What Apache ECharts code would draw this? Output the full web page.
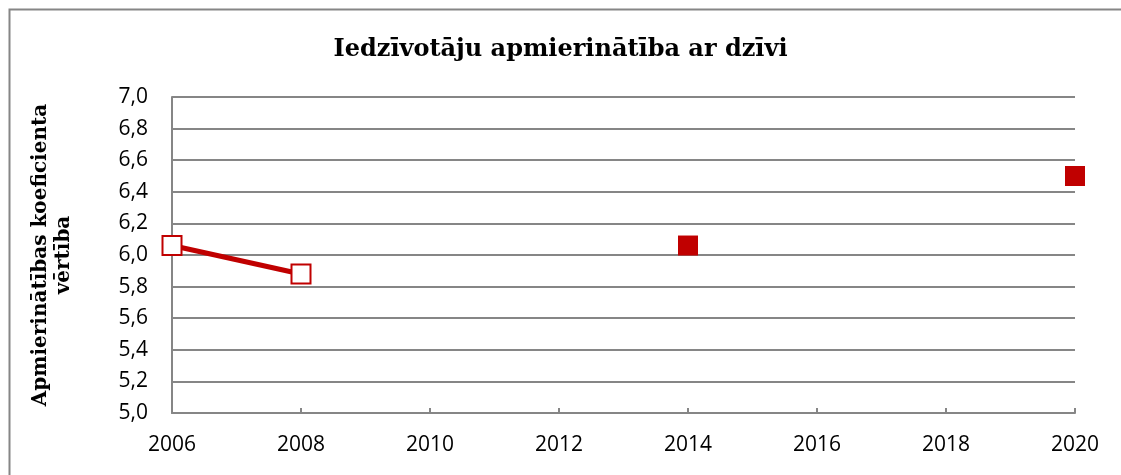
<!DOCTYPE html>
<html>
<head>
<meta charset="utf-8">
<script src="https://cdn.jsdelivr.net/npm/echarts@6/dist/echarts.min.js"></script>
<style>
html,body{margin:0;padding:0;background:#fff;}
#chart{width:1121px;height:475px;}
</style>
</head>
<body>
<div id="chart"></div>
<script>
// 2006 / 2008 series (line with hollow squares)
const years1 = [2006, 2008];
const values1 = [6.06, 5.88];
// 2014 / 2020 series (filled squares)
const years2 = [2014, 2020];
const values2 = [6.06, 6.5];

const red = "#C00000";
const gray = "#868686";

const chart = echarts.init(document.getElementById("chart"));

const option = {
    animation: false,
    backgroundColor: "#fff",
    title: {
        text: "Iedzīvotāju apmierinātība ar dzīvi",
        left: "center",
        top: 33,
        textStyle: {
            fontFamily: "DejaVu Serif",
            fontWeight: "bold",
            fontSize: 24,
            color: "#000"
        }
    },
    graphic: [{
        type: "rect",
        shape: {x: 9.5, y: 9.5, width: 1200, height: 600},
        style: {fill: "none", stroke: gray, lineWidth: 2},
        silent: true
    }],
    grid: {left: 172, top: 97, right: 46, bottom: 62},
    xAxis: {
        type: "value",
        min: 2006,
        max: 2020,
        interval: 2,
        axisLine: {show: true, lineStyle: {color: gray, width: 2}},
        axisTick: {show: true, inside: true, length: 5, lineStyle: {color: gray, width: 2}},
        splitLine: {show: false},
        axisLabel: {
            margin: 22,
            color: "#000",
            fontFamily: "Open Sans",
            fontSize: 21,
            formatter: v => String(v)
        }
    },
    yAxis: {
        type: "value",
        min: 5,
        max: 7,
        interval: 0.2,
        name: "Apmierinātības koeficienta\nvērtība",
        nameLocation: "middle",
        nameGap: 97,
        nameTextStyle: {
            fontFamily: "DejaVu Serif",
            fontWeight: "bold",
            fontSize: 20,
            color: "#000",
            lineHeight: 23
        },
        axisLine: {show: true, lineStyle: {color: gray, width: 2}},
        axisTick: {show: false},
        splitLine: {show: true, lineStyle: {color: gray, width: 2}},
        axisLabel: {
            margin: 24,
            color: "#000",
            fontFamily: "Open Sans",
            fontSize: 21,
            formatter: v => v.toFixed(1).replace(".", ",")
        }
    },
    series: [{
        type: "line",
        data: years1.map((y, i) => [y, values1[i]]),
        symbol: "rect",
        symbolSize: 19,
        showAllSymbol: true,
        lineStyle: {color: red, width: 5},
        itemStyle: {color: "#fff", borderColor: red, borderWidth: 2},
        z: 3
    }, {
        type: "scatter",
        data: years2.map((y, i) => [y, values2[i]]),
        symbol: "rect",
        symbolSize: 20,
        itemStyle: {color: red, opacity: 1},
        z: 3
    }]
};

chart.setOption(option);
</script>
</body>
</html>
